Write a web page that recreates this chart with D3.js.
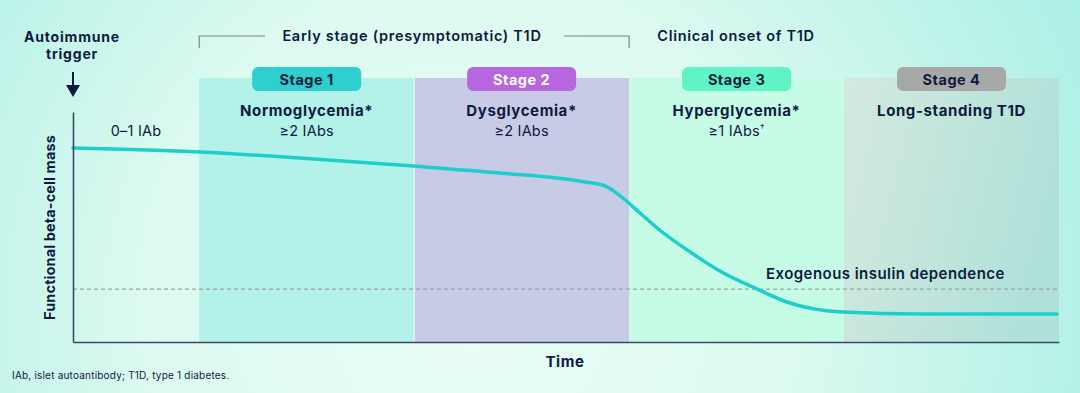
<!DOCTYPE html>
<html><head><meta charset="utf-8">
<script src="https://cdn.jsdelivr.net/npm/d3@7"></script>
<style>body{margin:0;background:#fff}svg{display:block}text{font-family:Inter,"Noto Sans",sans-serif;fill:#0d1b3e}</style>
</head><body><svg id="c" width="1080" height="393"></svg>
<script>
// ---- data ----
const stageNames = ["Stage 1","Stage 2","Stage 3","Stage 4"];
const stageStart = [12.8, 34.6, 56.4, 78.2];
const stageEnd   = [34.6, 56.4, 78.2, 100];
const stageTitles = ["Normoglycemia*","Dysglycemia*","Hyperglycemia*","Long-standing T1D"];
const stageSubs = ["≥2 IAbs","≥2 IAbs","≥1 IAbs",""];
const stageFill = ["#b3f2e9","#c8cbe6","#c6fbe6","#cfe7de"];
const pillFill = ["#2dcfcf","#b866df","#5ef4c6","#a7a8a8"];
const pillText = ["#0d1b3e","#ffffff","#0d1b3e","#0d1b3e"];
const curveTime = [0,12.9,23.0,34.5,43.3,51.9,54.0,55.5,57.5,59.5,62.6,65.6,69.4,72.4,75.3,78.1,85.9,99.8];
const curveMass = [84.3,82.6,80.0,76.5,73.5,69.6,67.8,63.5,56.1,48.7,39.1,30.9,23.0,17.4,14.3,13.0,12.2,12.2];
const insulinThreshold = 23;

const svg = d3.select("#c");
const defs = svg.append("defs");
const bg = defs.append("radialGradient").attr("id","bg").attr("gradientUnits","userSpaceOnUse")
  .attr("cx",470).attr("cy",300).attr("r",720);
bg.append("stop").attr("offset",0).attr("stop-color","#eafef5");
bg.append("stop").attr("offset",0.45).attr("stop-color","#dcfaf0");
bg.append("stop").attr("offset",1).attr("stop-color","#a6eee4");
svg.append("rect").attr("width",1080).attr("height",393).attr("fill","url(#bg)");
const s4 = defs.append("linearGradient").attr("id","s4").attr("x1",0).attr("x2",1).attr("y1",0).attr("y2",0.3);
s4.append("stop").attr("offset",0).attr("stop-color","#d4e9df");
s4.append("stop").attr("offset",1).attr("stop-color","#b0e1d9");

const x = d3.scaleLinear().domain([0,100]).range([73,1059]);
const y = d3.scaleLinear().domain([0,100]).range([342,112]);
const bandTop = 78;

// stage bands
stageNames.forEach((n,i)=>{
  svg.append("rect").attr("x",x(stageStart[i])).attr("y",bandTop)
    .attr("width",x(stageEnd[i])-x(stageStart[i])).attr("height",y(0)-bandTop)
    .attr("fill", i===3 ? "url(#s4)" : stageFill[i]);
});
svg.append("line").attr("x1",x(stageStart[1])).attr("x2",x(stageStart[1])).attr("y1",bandTop).attr("y2",y(0))
  .attr("stroke","#eefcf7").attr("stroke-width",1);

// pills + titles
stageNames.forEach((n,i)=>{
  const cx = (x(stageStart[i])+x(stageEnd[i]))/2;
  svg.append("rect").attr("x",cx-54.5).attr("y",67).attr("width",109).attr("height",24).attr("rx",6)
    .attr("fill",pillFill[i]);
  svg.append("text").attr("x",cx).attr("y",84.5).attr("text-anchor","middle")
    .attr("font-size",14.5).attr("font-weight",700).attr("letter-spacing",0.5).style("fill",pillText[i]).text(n);
  svg.append("text").attr("x",cx).attr("y",116).attr("text-anchor","middle")
    .attr("font-size",15).attr("font-weight",700).attr("letter-spacing",0.6).text(stageTitles[i]);
  if (stageSubs[i]) {
    const t = svg.append("text").attr("x",cx).attr("y",136).attr("text-anchor","middle")
      .attr("font-size",14.5).attr("font-weight",400).attr("letter-spacing",0.2).text(stageSubs[i]);
    if (i===2) t.append("tspan").attr("dy",-5).attr("font-size",9).text("†");
  }
});
svg.append("text").attr("x",136).attr("y",136).attr("text-anchor","middle")
  .attr("font-size",14.5).attr("letter-spacing",0.2).text("0–1 IAb");

// threshold
svg.append("line").attr("x1",x(0)).attr("x2",x(100)).attr("y1",y(insulinThreshold)).attr("y2",y(insulinThreshold))
  .attr("stroke","#9aa3a3").attr("stroke-width",1.2).attr("stroke-dasharray","4,3");
svg.append("text").attr("x",766).attr("y",279).attr("font-size",15).attr("font-weight",600).attr("letter-spacing",0.45)
  .text("Exogenous insulin dependence");

// curve
const pts = curveTime.map((t,i)=>[t,curveMass[i]]);
svg.append("path").datum(pts)
  .attr("d", d3.line().x(d=>x(d[0])).y(d=>y(d[1])).curve(d3.curveMonotoneX))
  .attr("fill","none").attr("stroke","#1ccfcb").attr("stroke-width",3.5).attr("stroke-linecap","round");

// axes
const xa = svg.append("g").attr("transform",`translate(0,${y(0)})`)
  .call(d3.axisBottom(x).tickValues([]).tickSizeOuter(0));
const ya = svg.append("g").attr("transform",`translate(${x(0)},0)`)
  .call(d3.axisLeft(y).tickValues([]).tickSizeOuter(0));
[xa,ya].forEach(a=>a.select(".domain").attr("stroke","#3a4a66").attr("stroke-width",1.6));

svg.append("text").attr("x",565).attr("y",367).attr("text-anchor","middle")
  .attr("font-size",15).attr("font-weight",700).attr("letter-spacing",0.6).text("Time");
svg.append("text").attr("transform","translate(55,227.5) rotate(-90)").attr("text-anchor","middle")
  .attr("font-size",14.5).attr("font-weight",700).attr("letter-spacing",0.1).text("Functional beta-cell mass");

// trigger
svg.append("text").attr("x",72).attr("y",42).attr("text-anchor","middle").attr("font-size",14).attr("font-weight",700).attr("letter-spacing",0.8).text("Autoimmune");
svg.append("text").attr("x",72).attr("y",59).attr("text-anchor","middle").attr("font-size",14).attr("font-weight",700).attr("letter-spacing",0.8).text("trigger");
svg.append("line").attr("x1",73).attr("x2",73).attr("y1",72).attr("y2",88).attr("stroke","#0d1b3e").attr("stroke-width",2);
svg.append("path").attr("d","M66,85 L80,85 L73,97 Z").attr("fill","#0d1b3e");

// bracket
svg.append("path").attr("d",`M${x(stageStart[0])},48 V36 H265`).attr("fill","none").attr("stroke","#7d8585").attr("stroke-width",1.2);
svg.append("path").attr("d",`M564,36 H${x(stageStart[2])} V48`).attr("fill","none").attr("stroke","#7d8585").attr("stroke-width",1.2);
svg.append("text").attr("x",412).attr("y",41).attr("text-anchor","middle").attr("font-size",14.5).attr("font-weight",600).attr("letter-spacing",0.7).text("Early stage (presymptomatic) T1D");
svg.append("text").attr("x",736).attr("y",41).attr("text-anchor","middle").attr("font-size",14.5).attr("font-weight",600).attr("letter-spacing",0.7).text("Clinical onset of T1D");

svg.append("text").attr("x",12).attr("y",379).attr("font-size",10).attr("letter-spacing",0.2).text("IAb, islet autoantibody; T1D, type 1 diabetes.");
</script></body></html>
